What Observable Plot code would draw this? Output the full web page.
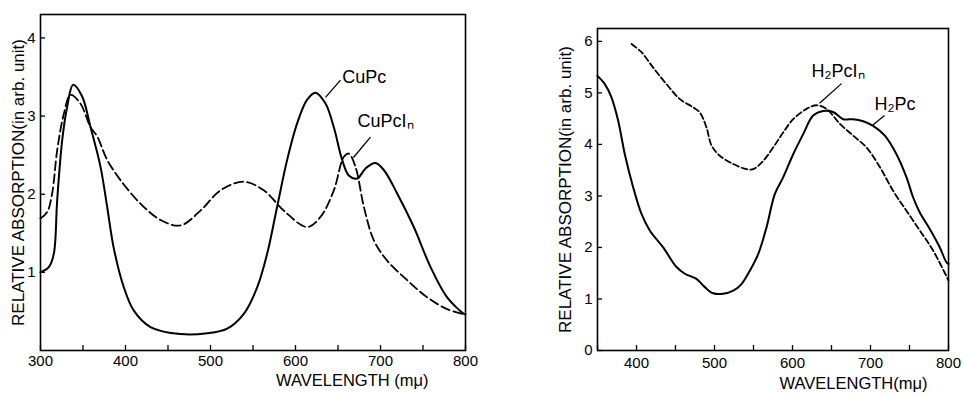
<!DOCTYPE html>
<html><head><meta charset="utf-8">
<script src="https://cdn.jsdelivr.net/npm/d3@7"></script>
<script src="https://cdn.jsdelivr.net/npm/@observablehq/plot@0.6"></script>
<style>
body{margin:0;background:#fff;}
#wrap{position:relative;width:964px;height:395px;background:#fff;}
#left,#right{position:absolute;top:0;}
#left{left:0px;} #right{left:480px;}
</style></head><body>
<div id="wrap"><div id="left"></div><div id="right"></div></div>
<script>
// ---- Left panel: CuPc / CuPcIn ----
const cuPcWave = [300,310,315.7,319.6,325.5,331.4,338.4,349,358.8,370.6,378.4,386,398,409.8,429.4,464.7,496,519.6,539.2,555,566.7,578.4,590.2,602,613.7,623.5,635.3,645,654.9,662.7,672.5,682.4,694,703.9,719.6,739.2,758.8,778.4,798,800];
const cuPcAbs  = [1.0,1.07,1.24,1.92,2.69,3.12,3.40,3.25,2.86,2.35,1.84,1.32,0.81,0.51,0.30,0.21,0.22,0.28,0.47,0.81,1.24,1.84,2.44,2.91,3.21,3.30,3.16,2.86,2.44,2.24,2.20,2.33,2.40,2.31,2.01,1.58,1.07,0.68,0.47,0.46];
const cuPcInWave = [300,307.8,313.7,319.6,327.5,335.3,347,358.8,366.7,378.4,394.1,417.6,441.2,464.7,488.2,511.8,539.2,562.7,586.3,613.7,629.4,645.1,656.9,662.7,670.6,680.4,692.2,707.8,731.4,755,778.4,800];
const cuPcInAbs  = [1.69,1.77,2.01,2.56,3.03,3.27,3.16,2.86,2.74,2.44,2.18,1.88,1.67,1.60,1.79,2.05,2.16,2.05,1.79,1.58,1.71,2.05,2.48,2.52,2.35,1.84,1.41,1.15,0.90,0.68,0.53,0.46];
const leftXTicks = [300,350,400,450,500,550,600,650,700,750,800];
const leftYTicks = [1,2,3,4];
const leftLabels = ["CuPc","CuPcIₙ"];
const leftLabelX = [655,673];
const leftLabelY = [3.5,2.93];
const leftLeadX1 = [635.3,668.2], leftLeadY1 = [3.24,2.47];
const leftLeadX2 = [652.9,688.2], leftLeadY2 = [3.46,2.73];

// ---- Right panel: H2Pc / H2PcIn ----
const h2PcWave = [350,359.4,368,376.5,385,395.7,406.4,417,434.2,451.3,462,476.9,487.6,498.3,511,524,534.6,545.3,556,566.7,577.4,588,600.9,613.7,626.5,639.3,652.1,665,677.8,690.6,703.4,718.4,733.3,746.2,754.7,763.2,776,788.9,797.4,800];
const h2PcAbs  = [5.33,5.17,4.91,4.46,3.81,3.17,2.65,2.33,2.00,1.62,1.49,1.39,1.23,1.11,1.10,1.16,1.29,1.55,1.87,2.39,3.04,3.36,3.81,4.20,4.56,4.65,4.63,4.49,4.49,4.45,4.36,4.17,3.81,3.36,2.97,2.68,2.36,2.00,1.71,1.68];
const h2PcInWave = [393.6,406.4,421.4,438.5,455.6,472.6,481.2,489.7,496.2,506.8,524,541,549.6,562.4,575.2,588,600.9,618,630.8,643.6,660.7,677.8,694.9,712,729,746.2,763.2,780.3,800];
const h2PcInAbs  = [5.95,5.79,5.49,5.17,4.88,4.72,4.62,4.33,3.98,3.78,3.62,3.52,3.52,3.68,3.94,4.23,4.49,4.69,4.76,4.69,4.40,4.17,3.94,3.56,3.10,2.71,2.33,1.94,1.36];
const rightXTicks = [350,400,450,500,550,600,650,700,750,800];
const rightYTicks = [0,1,2,3,4,5,6];
const rightLabels = ["H₂PcIₙ","H₂Pc"];
const rightLabelX = [624.4,705];
const rightLabelY = [5.42,4.78];
const rightLeadX1 = [634.6,702.6], rightLeadY1 = [4.80,4.37];
const rightLeadX2 = [662.8,718], rightLeadY2 = [5.18,4.56];

const yTitle = "RELATIVE ABSORPTION(in arb. unit)";
const FONT = "Liberation Sans, Arial, sans-serif";

function rows(xs, ys) { return xs.map((x, i) => ({x, y: ys[i]})); }

function panel(o) {
  const H = 395, MB = 45;
  const fw = o.width - o.ml - o.mr, fh = H - o.mt - MB, T = 5;
  const labels = o.labels.map((t, i) => ({t, x: o.lx[i], y: o.ly[i]}));
  const leads = o.ax1.map((x, i) => ({x1: x, y1: o.ay1[i], x2: o.ax2[i], y2: o.ay2[i]}));
  return Plot.plot({
    width: o.width, height: H,
    marginLeft: o.ml, marginRight: o.mr, marginTop: o.mt, marginBottom: MB,
    style: {fontFamily: FONT, color: "#000", background: "transparent"},
    x: {domain: o.xDomain},
    y: {domain: o.yDomain},
    marks: [
      Plot.axisX(o.xTicks, {tickSize: 0, tickPadding: o.xPad, fontSize: 15,
        tickFormat: d => d % 100 === 0 ? String(d) : "", label: null}),
      Plot.axisY(o.yTicks, {tickSize: 0, tickPadding: 5, fontSize: 15,
        tickFormat: d => String(d), label: null}),
      Plot.tickX(o.xTicks, {x: d => d, insetTop: fh - T, stroke: "#000", strokeWidth: 1.3}),
      Plot.tickY(o.yTicks, {y: d => d, insetRight: fw - T, stroke: "#000", strokeWidth: 1.3}),
      Plot.frame({stroke: "#000", strokeWidth: 1.6}),
      Plot.line(rows(o.sx, o.sy), {x: "x", y: "y", stroke: "#000", strokeWidth: 2, curve: "catmull-rom"}),
      Plot.line(rows(o.dx, o.dy), {x: "x", y: "y", stroke: "#000", strokeWidth: 1.8, strokeDasharray: o.dash, curve: "catmull-rom"}),
      Plot.link(leads, {x1: "x1", y1: "y1", x2: "x2", y2: "y2", stroke: "#000", strokeWidth: 1.3}),
      Plot.text(labels, {x: "x", y: "y", text: "t", textAnchor: "start", fontSize: 18, fill: "#000"}),
      Plot.text([o.xTitle], {frameAnchor: "bottom-right", textAnchor: "end", dx: o.xtDx, dy: o.xtDy, fontSize: 16.5, fill: "#000"}),
      Plot.text([yTitle], {frameAnchor: "left", textAnchor: "middle", rotate: -90, dx: o.ytDx, fontSize: 17, fill: "#000"})
    ]
  });
}

document.getElementById("left").append(panel({
  width: 480, ml: 40, mr: 15, mt: 14, xPad: 5,
  xDomain: [300, 800], yDomain: [0, 4.3],
  xTicks: leftXTicks, yTicks: leftYTicks,
  sx: cuPcWave, sy: cuPcAbs, dx: cuPcInWave, dy: cuPcInAbs, dash: "9,4",
  labels: leftLabels, lx: leftLabelX, ly: leftLabelY,
  ax1: leftLeadX1, ay1: leftLeadY1, ax2: leftLeadX2, ay2: leftLeadY2,
  xTitle: "WAVELENGTH (mμ)", xtDx: -37, xtDy: 35, ytDx: -22
}));
document.getElementById("right").append(panel({
  width: 484, ml: 117, mr: 16, mt: 28, xPad: 7,
  xDomain: [350, 800], yDomain: [0, 6.25],
  xTicks: rightXTicks, yTicks: rightYTicks,
  sx: h2PcWave, sy: h2PcAbs, dx: h2PcInWave, dy: h2PcInAbs, dash: "6,3",
  labels: rightLabels, lx: rightLabelX, ly: rightLabelY,
  ax1: rightLeadX1, ay1: rightLeadY1, ax2: rightLeadX2, ay2: rightLeadY2,
  xTitle: "WAVELENGTH(mμ)", xtDx: -21, xtDy: 38, ytDx: -32
}));
</script>
</body></html>
